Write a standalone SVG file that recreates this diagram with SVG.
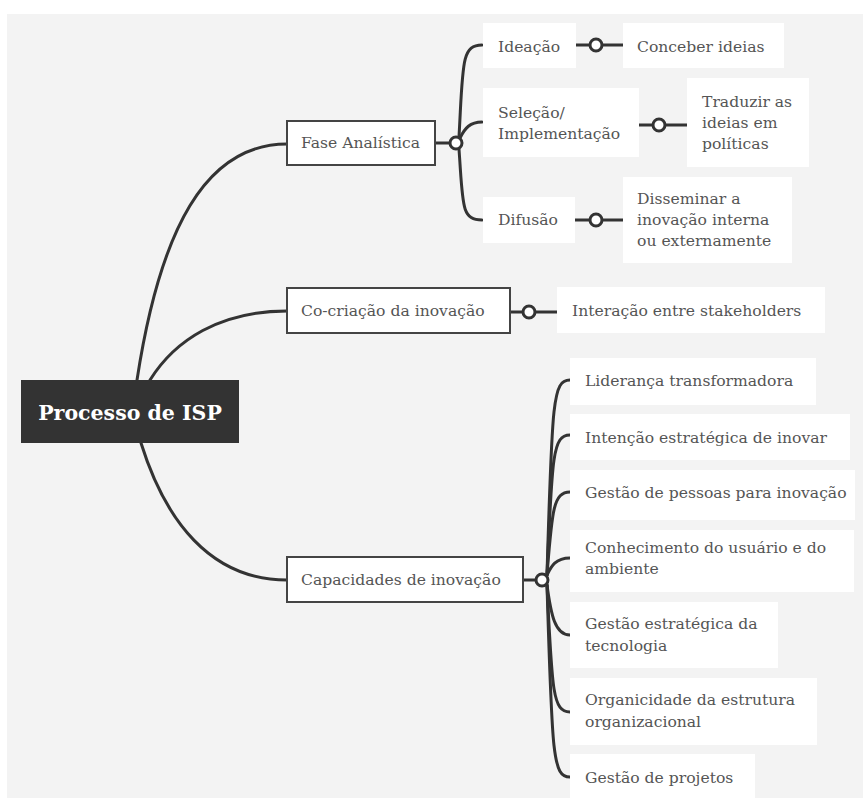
<svg xmlns="http://www.w3.org/2000/svg" width="863" height="798" viewBox="0 0 863 798">
<style>
.t{font-family:"DejaVu Serif","Liberation Serif",serif;font-size:15.6px;fill:#555}
.box{fill:#fff}
.bb{fill:#fff;stroke:#444;stroke-width:2}
.c{fill:none;stroke:#333;stroke-width:3;stroke-linecap:round}
.k{fill:#fff;stroke:#333;stroke-width:3}
.root{font-family:"DejaVu Serif","Liberation Serif",serif;font-size:20.5px;font-weight:bold;fill:#fff}
</style>
<rect x="0" y="0" width="863" height="798" fill="#fff"/>
<rect x="7" y="14" width="856" height="784" fill="#f3f3f3"/>
<g id="connectors">
<path class="c" d="M137,380 C160,230 205,144 287,144"/>
<path class="c" d="M150,380 C175,340 220,311 287,311"/>
<path class="c" d="M141,443 C165,520 210,580 287,580"/>
<path class="c" d="M435,143 L450,143"/>
<path class="c" d="M459,137 C463,65 461,45 482,45"/>
<path class="c" d="M460,138 C465,128 470,122 482,122"/>
<path class="c" d="M459,149 C463,205 461,220 482,220"/>
<path class="c" d="M576,45 L623,45"/>
<path class="c" d="M639,125 L687,125"/>
<path class="c" d="M575,220 L623,220"/>
<path class="c" d="M510,312 L557,312"/>
<path class="c" d="M523,580 L536,580"/>
<path class="c" d="M547,575 C552,400 553,380 570,380"/>
<path class="c" d="M547,575 C552,455 553,435 570,435"/>
<path class="c" d="M547,575 C552,512 553,492 570,492"/>
<path class="c" d="M547,575 C551,567 555,558 570,558"/>
<path class="c" d="M547,585 C551,615 555,635 570,635"/>
<path class="c" d="M547,585 C552,692 553,712 570,712"/>
<path class="c" d="M547,585 C552,757 553,777 570,777"/>
<circle class="k" cx="456" cy="143" r="6"/>
<circle class="k" cx="596" cy="45" r="6"/>
<circle class="k" cx="659" cy="125" r="6"/>
<circle class="k" cx="596" cy="220" r="6"/>
<circle class="k" cx="529" cy="312" r="6"/>
<circle class="k" cx="542" cy="580" r="6"/>
</g>
<g id="root">
<rect x="21" y="380" width="218" height="63" fill="#333"/>
<text class="root" x="130" y="420" text-anchor="middle">Processo de ISP</text>
</g>
<g id="fase">
<rect class="bb" x="287" y="121" width="148" height="44"/>
<text class="t" x="301" y="148">Fase Analística</text>
</g>
<g id="cocriacao">
<rect class="bb" x="287" y="288" width="223" height="45"/>
<text class="t" x="301" y="316">Co-criação da inovação</text>
</g>
<g id="capacidades">
<rect class="bb" x="287" y="557" width="236" height="45"/>
<text class="t" x="301" y="585">Capacidades de inovação</text>
</g>
<g id="ideacao">
<rect class="box" x="483" y="23" width="93" height="45"/>
<text class="t" x="498" y="52">Ideação</text>
</g>
<g id="conceber">
<rect class="box" x="623" y="23" width="161" height="45"/>
<text class="t" x="637" y="52">Conceber ideias</text>
</g>
<g id="selecao">
<rect class="box" x="483" y="88" width="156" height="69"/>
<text class="t" x="498" y="118">Seleção/</text>
<text class="t" x="498" y="139">Implementação</text>
</g>
<g id="traduzir">
<rect class="box" x="687" y="78" width="122" height="89"/>
<text class="t" x="702" y="107">Traduzir as</text>
<text class="t" x="702" y="128">ideias em</text>
<text class="t" x="702" y="149">políticas</text>
</g>
<g id="difusao">
<rect class="box" x="483" y="197" width="92" height="46"/>
<text class="t" x="498" y="225">Difusão</text>
</g>
<g id="disseminar">
<rect class="box" x="623" y="177" width="169" height="86"/>
<text class="t" x="637" y="204">Disseminar a</text>
<text class="t" x="637" y="225">inovação interna</text>
<text class="t" x="637" y="246">ou externamente</text>
</g>
<g id="interacao">
<rect class="box" x="557" y="287" width="268" height="46"/>
<text class="t" x="572" y="316">Interação entre stakeholders</text>
</g>
<g id="lideranca">
<rect class="box" x="570" y="358" width="246" height="47"/>
<text class="t" x="585" y="386">Liderança transformadora</text>
</g>
<g id="intencao">
<rect class="box" x="570" y="414" width="280" height="46"/>
<text class="t" x="585" y="443">Intenção estratégica de inovar</text>
</g>
<g id="pessoas">
<rect class="box" x="570" y="470" width="285" height="50"/>
<text class="t" x="585" y="498">Gestão de pessoas para inovação</text>
</g>
<g id="conhecimento">
<rect class="box" x="570" y="530" width="284" height="62"/>
<text class="t" x="585" y="553">Conhecimento do usuário e do</text>
<text class="t" x="585" y="574">ambiente</text>
</g>
<g id="tecnologia">
<rect class="box" x="570" y="602" width="208" height="66"/>
<text class="t" x="585" y="629">Gestão estratégica da</text>
<text class="t" x="585" y="651">tecnologia</text>
</g>
<g id="organicidade">
<rect class="box" x="570" y="678" width="247" height="67"/>
<text class="t" x="585" y="705">Organicidade da estrutura</text>
<text class="t" x="585" y="727">organizacional</text>
</g>
<g id="projetos">
<rect class="box" x="570" y="754" width="185" height="44"/>
<text class="t" x="585" y="783">Gestão de projetos</text>
</g>
</svg>
